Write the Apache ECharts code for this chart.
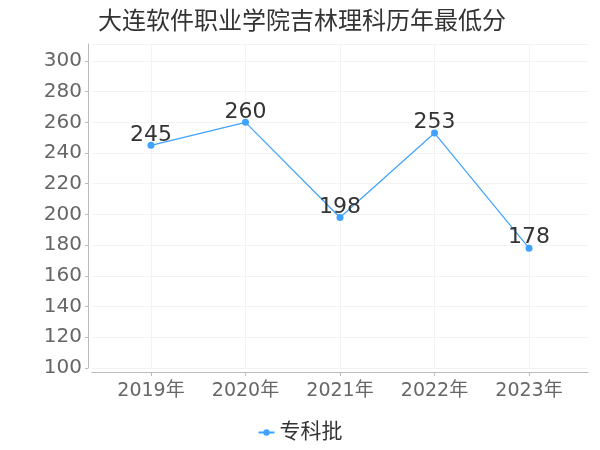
<!DOCTYPE html>
<html><head><meta charset="utf-8">
<script src="https://cdn.jsdelivr.net/npm/echarts@6/dist/echarts.min.js"></script>
<style>html,body{margin:0;padding:0;background:#fff}#c{width:600px;height:450px}</style>
</head><body><div id="c"></div>
<script>
const titleText = '大连软件职业学院吉林理科历年最低分';
const categories = ['2019年','2020年','2021年','2022年','2023年'];
const seriesName = '专科批';
const values = [245, 260, 198, 253, 178];

const font = 'DejaVu Sans, Noto Sans CJK SC, sans-serif';
const chart = echarts.init(document.getElementById('c'));
const idx = categories.map((c,i)=>i);
chart.setOption({
  animation:false,
  title:{text:titleText,left:93,top:6,textStyle:{fontSize:24,fontWeight:'normal',color:'#333',fontFamily:font}},
  legend:{bottom:2,left:'center',itemWidth:16,itemHeight:8,itemGap:6,textStyle:{fontSize:21,color:'#333',fontFamily:font},data:[seriesName]},
  grid:{left:92,right:12,top:44,bottom:82},
  xAxis:{type:'value',min:-0.624,max:4.624,offset:4,
    axisLine:{onZero:false,lineStyle:{color:'#bbb'}},
    axisTick:{show:true,customValues:idx,length:4,lineStyle:{color:'#bbb'}},
    axisLabel:{customValues:idx,formatter:v=>categories[Math.round(v)],fontSize:19,color:'#666',margin:10,fontFamily:font},
    splitLine:{show:true,customValues:idx,lineStyle:{color:'#f3f3f3'}}
  },
  yAxis:{type:'value',min:100,max:311,interval:20,offset:4,
    axisLine:{show:true,onZero:false,lineStyle:{color:'#bbb'}},
    axisTick:{show:true,length:3,lineStyle:{color:'#bbb'}},
    axisLabel:{fontSize:20,color:'#666',margin:6,showMaxLabel:false,fontFamily:font},
    splitLine:{show:true,lineStyle:{color:'#f3f3f3'}}
  },
  series:[{name:seriesName,type:'line',data:values.map((v,i)=>[idx[i],v]),
    symbol:'circle',symbolSize:7,
    itemStyle:{color:'#3fa2ff'},lineStyle:{color:'#3fa2ff',width:1.2},
    label:{show:true,position:'top',distance:-4,fontSize:22,color:'#333',fontFamily:font}
  }]
});
</script></body></html>
